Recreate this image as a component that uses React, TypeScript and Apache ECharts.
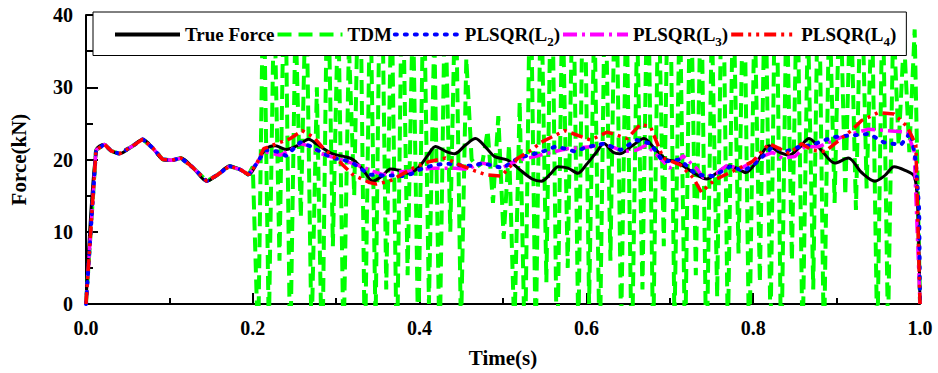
import React, { useEffect, useRef } from "react";
import * as echarts from "echarts";

const FONT = '"Liberation Serif", "Times New Roman", serif';

const SERIES_NAMES = ["True Force", "TDM", "PLSQR(L2)", "PLSQR(L3)", "PLSQR(L4)"];
const X_TICKS = [0, 0.2, 0.4, 0.6, 0.8, 1.0];
const Y_TICKS = [0, 10, 20, 30, 40];

// True force (black)
const TRUE_T = [0, 0.012, 0.022, 0.030, 0.040, 0.055, 0.068, 0.080, 0.092, 0.103, 0.114, 0.128, 0.145, 0.158, 0.172, 0.185, 0.195,
  0.205, 0.215, 0.227, 0.240, 0.255, 0.267, 0.277, 0.295, 0.310, 0.320, 0.332, 0.344, 0.355, 0.365, 0.375, 0.385, 0.398, 0.410, 0.419, 0.432,
  0.442, 0.455, 0.467, 0.480, 0.490, 0.506, 0.520, 0.535, 0.546, 0.557, 0.566, 0.578, 0.590, 0.600, 0.612, 0.621, 0.632, 0.640, 0.655, 0.669,
  0.682, 0.696, 0.708, 0.720, 0.732, 0.744, 0.757, 0.770, 0.780, 0.791, 0.805, 0.819, 0.830, 0.843, 0.855, 0.867, 0.880, 0.898, 0.914, 0.930,
  0.946, 0.958, 0.969, 0.982, 0.993, 0.997, 1.0];
const TRUE_V = [0, 21.3, 22.1, 21.2, 20.8, 21.8, 22.8, 21.6, 20.0, 19.9, 20.2, 18.9, 17.0, 17.9, 19.1, 18.6, 17.9,
  19.5, 21.4, 21.9, 21.4, 22.0, 22.8, 22.1, 20.8, 20.4, 20.0, 18.6, 17.0, 17.7, 18.7, 18.5, 18.1, 18.8, 20.6, 21.8, 21.1,
  20.8, 22.0, 22.9, 21.6, 20.4, 19.9, 18.6, 17.3, 17.0, 18.0, 19.0, 18.8, 18.1, 19.3, 21.0, 22.2, 21.0, 20.8, 21.9, 22.9,
  21.5, 20.0, 19.7, 18.8, 17.9, 17.3, 18.2, 19.1, 18.8, 18.2, 19.8, 21.9, 21.1, 20.6, 21.6, 22.9, 21.5, 19.5, 20.2, 18.2,
  17.0, 17.8, 19.0, 18.5, 17.7, 14, 0];

// Number of leading points (t < 0.2) where all reconstructions coincide with the true force
const SHARED_COUNT = 17;

// PLSQR(L2) (blue)
const L2_T = [0.205, 0.215, 0.229, 0.240, 0.257, 0.270, 0.285, 0.296, 0.310, 0.320, 0.340, 0.355, 0.370, 0.380, 0.390, 0.400, 0.419, 0.435,
  0.450, 0.465, 0.475, 0.490, 0.500, 0.518, 0.535, 0.550, 0.562, 0.575, 0.586, 0.600, 0.621, 0.641, 0.660, 0.677, 0.692, 0.712, 0.732,
  0.752, 0.773, 0.789, 0.803, 0.823, 0.839, 0.855, 0.870, 0.896, 0.915, 0.939, 0.956, 0.977, 0.989, 0.995, 0.999, 1.0];
const L2_V = [19.5, 21.3, 21.1, 20.5, 22.4, 21.8, 20.8, 20.2, 19.9, 19.5, 17.9, 17.8, 17.8, 17.7, 18.0, 18.6, 19.3, 19.4,
  19.2, 19.1, 19.5, 19.1, 18.8, 20.2, 20.7, 21.2, 21.75, 21.5, 21.1, 21.7, 22.2, 21.3, 22.7, 22.2, 19.7, 20.0, 17.9,
  17.7, 19.05, 18.4, 19.5, 21.75, 21.1, 21.75, 22.0, 23.1, 23.3, 23.55, 22.4, 22.0, 23.8, 19.7, 13, 0];

// PLSQR(L3) (magenta)
const L3_T = [0.205, 0.213, 0.233, 0.245, 0.257, 0.270, 0.281, 0.300, 0.324, 0.344, 0.356, 0.370, 0.388, 0.415, 0.443, 0.459, 0.467, 0.475,
  0.483, 0.498, 0.510, 0.522, 0.538, 0.553, 0.577, 0.605, 0.621, 0.645, 0.660, 0.672, 0.688, 0.700, 0.716, 0.732, 0.740, 0.756, 0.770,
  0.783, 0.807, 0.823, 0.835, 0.850, 0.862, 0.878, 0.906, 0.938, 0.961, 0.985, 0.993, 1.0];
const L3_V = [19.5, 21.1, 20.6, 21.3, 22.2, 21.8, 20.85, 20.2, 19.3, 18.4, 17.9, 18.2, 18.4, 18.8, 18.8, 18.6, 19.3, 19.5,
  19.3, 18.8, 19.5, 20.0, 20.4, 20.85, 21.5, 21.75, 22.2, 21.1, 21.3, 22.0, 20.2, 18.8, 20.5, 18.8, 17.5, 18.1, 19.3,
  18.6, 20.2, 21.0, 20.2, 20.4, 21.75, 21.75, 23.1, 24.2, 24.0, 23.8, 21.1, 0];

// PLSQR(L4) (red)
const L4_T = [0.205, 0.213, 0.229, 0.245, 0.259, 0.273, 0.285, 0.304, 0.320, 0.340, 0.348, 0.364, 0.392, 0.411, 0.431, 0.447, 0.467, 0.479,
  0.498, 0.518, 0.534, 0.546, 0.574, 0.605, 0.625, 0.649, 0.665, 0.677, 0.692, 0.712, 0.728, 0.738, 0.748, 0.756, 0.783, 0.799, 0.819,
  0.835, 0.843, 0.858, 0.870, 0.886, 0.918, 0.930, 0.950, 0.969, 0.985, 0.995, 1.0];
const L4_V = [19.5, 21.5, 22.2, 22.9, 24.0, 23.1, 21.5, 19.7, 17.9, 16.8, 16.6, 17.0, 18.8, 19.7, 20.2, 19.3, 18.4, 17.9,
  17.7, 20.2, 21.3, 22.4, 24.0, 22.7, 23.8, 22.9, 24.9, 24.5, 20.2, 19.3, 17.5, 15.45, 16.6, 17.3, 18.8, 19.7, 22.2,
  21.3, 20.85, 22.2, 21.3, 21.1, 24.05, 25.4, 26.5, 26.3, 24.5, 22.0, 0];

const TDM_START = 0.2;
const TDM_STEP = 0.0064;
const TDM_V = [
  19, -6, 48, -4, 44, 6, 52, -8, 40, 12,
  46, -5, 30, -10, 50, 8, 42, -6, 36, 15,
  55, -8, 45, -3, 58, 2, 44, -9, 50, 4,
  42, -6, 47, 0, 38, -7, 44, 10, 46, -4,
  34, 20, 19, 19.5, 24, 14, 26, 9, 22, -4,
  28, -8, 50, -6, 46, 3, 52, -10, 44, 5,
  48, -5, 56, 0, 41, -8, 47, 6, 53, -4,
  44, -9, 39, 2, 50, -6, 45, 8, 58, -3,
  43, -7, 49, 4, 46, -10, 40, 1, 54, -5,
  45, 7, 50, -8, 42, 3, 48, -4, 55, -9,
  44, 6, 47, -6, 40, 2, 51, -7, 43, 14,
  46, 15, 44, 13, 48, 16, 42, -6, 45, -4,
  40, 22, 37, 21, 38];
const TDM_END_T = [1.0];
const TDM_END_V = [0];

function pairs(t: number[], v: number[]) {
  return t.map((x, i) => [x, v[i]]);
}

function sharedStart() {
  return pairs(TRUE_T.slice(0, SHARED_COUNT), TRUE_V.slice(0, SHARED_COUNT));
}

export default function App() {
  const ref = useRef<HTMLDivElement>(null);
  useEffect(() => {
    if (!ref.current) return;
    const chart = echarts.init(ref.current, undefined, { renderer: "svg" });

    const tdmData = [
      ...sharedStart(),
      ...TDM_V.map((v, i) => [TDM_START + i * TDM_STEP, v]),
      ...pairs(TDM_END_T, TDM_END_V),
    ];

    const rich = {
      a: { fontFamily: FONT, fontWeight: "bold", fontSize: 19, color: "#000", lineHeight: 26 },
      s: { fontFamily: FONT, fontWeight: "bold", fontSize: 13, color: "#000", lineHeight: 26, verticalAlign: "bottom" },
    };

    const labelFont = { fontFamily: FONT, fontWeight: "bold", fontSize: 20, color: "#000" };

    const option: any = {
      animation: false,
      backgroundColor: "#fff",
      grid: { left: 77, right: 18, top: 15, bottom: 62 },
      legend: {
        data: SERIES_NAMES,
        left: 93,
        top: 12,
        itemWidth: 65,
        itemHeight: 14,
        itemGap: 1,
        selectedMode: false,
        padding: [13, 10, 8, 20],
        backgroundColor: "#fff",
        borderColor: "#000",
        borderWidth: 1,
        borderRadius: 0,
        itemStyle: { opacity: 0 },
        lineStyle: { width: 4 },
        textStyle: { ...labelFont, fontSize: 19, rich },
        formatter: (name: string) => {
          const m = name.match(/^(.*\(L)(\d)(\))$/);
          if (m) return `{a|${m[1]}}{s|${m[2]}}{a|${m[3]}}`;
          return `{a|${name}}`;
        },
      },
      xAxis: {
        type: "value",
        min: X_TICKS[0],
        max: X_TICKS[X_TICKS.length - 1],
        interval: 0.2,
        name: "Time(s)",
        nameLocation: "middle",
        nameGap: 43,
        nameTextStyle: { ...labelFont, fontSize: 21 },
        axisLine: { onZero: false, lineStyle: { color: "#000", width: 2 } },
        axisTick: { inside: true, length: 11, lineStyle: { color: "#000", width: 2 } },
        minorTick: { show: true, splitNumber: 2, length: 6, lineStyle: { color: "#000", width: 2 } },
        splitLine: { show: false },
        axisLabel: { ...labelFont, margin: 14, formatter: (v: number) => v.toFixed(1) },
      },
      yAxis: {
        type: "value",
        min: Y_TICKS[0],
        max: Y_TICKS[Y_TICKS.length - 1],
        interval: 10,
        name: "Force(kN)",
        nameLocation: "middle",
        nameGap: 57,
        nameTextStyle: { ...labelFont, fontSize: 21 },
        axisLine: { show: true, onZero: false, lineStyle: { color: "#000", width: 2 } },
        axisTick: { show: true, inside: true, length: 12, lineStyle: { color: "#000", width: 2 } },
        minorTick: { show: true, splitNumber: 2, length: 7, lineStyle: { color: "#000", width: 2 } },
        splitLine: { show: false },
        axisLabel: { ...labelFont, margin: 13 },
      },
      series: [
        {
          name: "TDM",
          type: "line",
          data: tdmData,
          symbol: "none",
          clip: true,
          z: 1,
          lineStyle: { color: "#00ff00", width: 4, type: [14, 7], cap: "butt" },
          itemStyle: { color: "#00ff00" },
        },
        {
          name: "True Force",
          type: "line",
          data: pairs(TRUE_T, TRUE_V),
          symbol: "none",
          smooth: 0.3,
          z: 3,
          lineStyle: { color: "#000", width: 3 },
          itemStyle: { color: "#000" },
        },
        {
          name: "PLSQR(L3)",
          type: "line",
          data: [...sharedStart(), ...pairs(L3_T, L3_V)],
          symbol: "none",
          z: 4,
          lineStyle: { color: "#ff00ff", width: 3.5, type: [14, 5, 3, 5] },
          itemStyle: { color: "#ff00ff" },
        },
        {
          name: "PLSQR(L2)",
          type: "line",
          data: [...sharedStart(), ...pairs(L2_T, L2_V)],
          symbol: "none",
          z: 5,
          lineStyle: { color: "#0000ff", width: 4, type: [2, 8], cap: "round" },
          itemStyle: { color: "#0000ff" },
        },
        {
          name: "PLSQR(L4)",
          type: "line",
          data: [...sharedStart(), ...pairs(L4_T, L4_V)],
          symbol: "none",
          z: 6,
          lineStyle: { color: "#ff0000", width: 3.5, type: [12, 5, 3, 5, 3, 5] },
          itemStyle: { color: "#ff0000" },
        },
      ],
    };
    chart.setOption(option);
    return () => chart.dispose();
  }, []);

  return (
    <div
      ref={ref}
      style={{ position: "fixed", left: 0, top: 0, width: 938, height: 373, background: "#fff" }}
    />
  );
}
